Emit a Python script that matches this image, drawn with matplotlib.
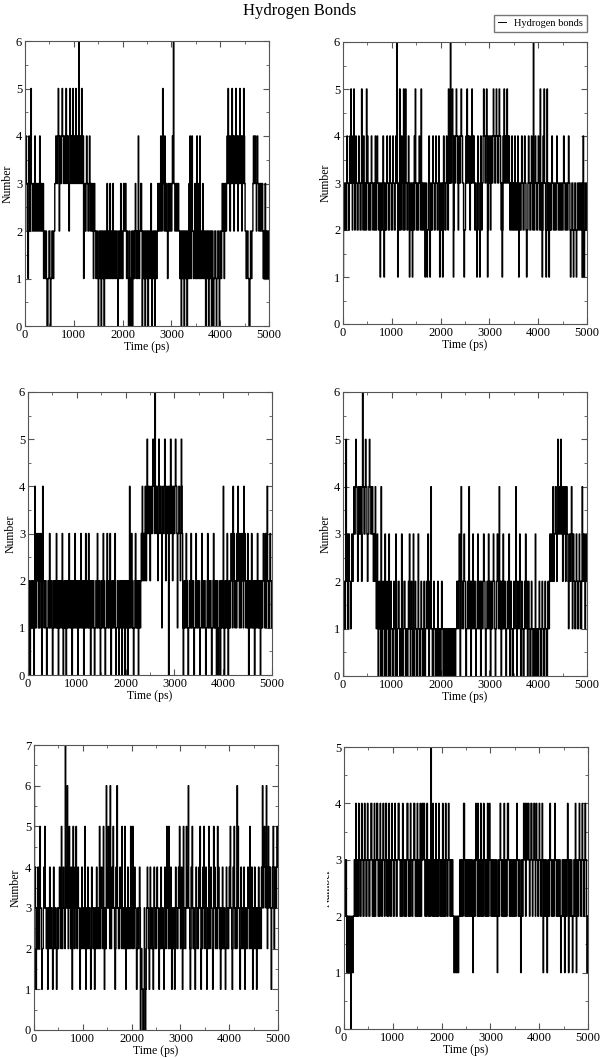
import numpy as np
import matplotlib
matplotlib.use("Agg")
import matplotlib.pyplot as plt
from matplotlib.transforms import Bbox, TransformedBbox
from matplotlib.ticker import MultipleLocator

# Hydrogen-bond counts, one digit per 10 ps, grouped in 500 ps windows
panel1 = [
    "23433212432353322332" "43233223324323322312" "2112100112",
    "2101122112" "23344334542343345443" "34435434432354344354",
    "34435434436434435434" "12322343322343233223" "1232211221",
    "01211201211201211231" "12213112213112211221" "0121123121",
    "12322332122101210112" "01211232122142122332" "0121120121",
    "12012112310121120121" "12322332432353324323" "3212322332",
    "23436332233223322112" "01211201211201213141" "1242211231",
    "21411231412112312112" "01211201211201210112" "2101122101",
    "21123223123223435334" "23435434234354342343" "5434234354",
    "32211221100121122343" "34432343322332233212" "2132122112",
]
panel2 = [
    "12233223433223435332" "43532343322343322353" "3243233253",
    "43233223433223324323" "43322312322343123223" "4332234332",
    "23433223436312325323" "43325323533223431232" "2312324353",
    "23322343325323322312" "32122343123223433223" "4332234312",
    "32231243322343325343" "63345412433454432343" "3454433212",
    "23435434432343543443" "23321243321243233454" "4334541243",
    "34234334544334544334" "54432312435434435434" "4323324323",
    "32432332431232234332" "23433212234332234332" "6323433223",
    "43325323124353321253" "23123223433223322343" "3223322332",
    "23433223322343321223" "32122332122332233223" "1243122332",
]
panel3 = [
    "12210121122101411232" "21311232014221122101" "1221311221",
    "01211221311201211221" "31012112012112312112" "0121123121",
    "12012112312112012131" "12213112012112210112" "2131122101",
    "21123121011231211231" "01211221310112210121" "1201211201",
    "21120121411231210112" "31211201211232432332" "4323533443",
    "23433454436434432354" "34431343345423433403" "4354342343",
    "34544313344323543101" "21123121011221311221" "0112312112",
    "21011231211221011231" "21122101123121120121" "0112012112",
    "41012112310121123221" "42321221324221321232" "2142321221",
    "31012112312112012112" "31211201211232213112" "4221123221",
]
panel4 = [
    "01211252231232211232" "23433454432343344324" "6443345443",
    "23345443344323324212" "31012110410121103101" "2110310121",
    "10012110310112210110" "31011221011001213101" "2110310121",
    "10013110012110012101" "12213101214110012110" "0110210110",
    "01211001100110011001" "10011001100112211232" "0142211232",
    "21011221421201213212" "21011231211201211232" "2101122132",
    "12012112322101123221" "42120121311221011221" "3201211001",
    "21124201211231012110" "01213212012110012110" "0110310110",
    "01211001211001211001" "21123223324323344323" "5434435434",
    "23433423433212322343" "12322112322112322112" "4223321232",
]
panel5 = [
    "63431232432353321223" "43533223123243233212" "4323321232",
    "23433253234332734363" "23533243125332435323" "4332123243",
    "23325312324323321243" "32231232432332532343" "3253123263",
    "43533263234353321243" "63322343325323325312" "3243233253",
    "32532343321232234301" "21100131012343321243" "2332124332",
    "23433212324323321243" "23533253234312322312" "4332234353",
    "23431253322353436332" "12435323321243322343" "5312324353",
    "23431232532343321253" "43233253432312324323" "3212433223",
    "43533212435323326353" "32124323324312322343" "3253234312",
    "32432312324323324364" "34544364235434431334" "5423433454",
]
panel6 = [
    "32233212211221012112" "23324323324332234332" "2343322343",
    "32233443233243233443" "23324332234332344323" "3243322343",
    "32234332233443322332" "43322332344323324332" "2334432332",
    "43233243234334432332" "43322332533243233243" "2332433223",
    "32432332433223433223" "32322112211221122332" "2332344323",
    "32233223322332123223" "43324323324323324332" "2332432343",
    "32233223322332123223" "43322332432332344332" "2332233223",
    "32234332233212322343" "34234334432334432334" "4323433223",
    "43322343123223321232" "23433223322343322332" "2332122332",
    "23123223431232233212" "23324312322343322343" "3223433212",
]

series = [panel1, panel2, panel3, panel4, panel5, panel6]
y_max = [6, 6, 6, 6, 7, 5]
window_ps = 500
t_end = 5000

title = "Hydrogen Bonds"
legend_label = "Hydrogen bonds"
xlabel = "Time (ps)"
ylabel = "Number"

plt.rcParams['font.family'] = ['Liberation Serif', 'DejaVu Serif']

fig = plt.figure(figsize=(6.0, 10.58), dpi=100)
W, H = 600.0, 1058.0
# axes boxes in pixels: x0, x1, ytop, ybottom
boxes = [(25, 269, 41, 326), (343, 587, 42, 324),
         (28, 272, 392, 675), (343, 587, 392, 676),
         (34, 278, 745, 1030), (344, 588, 747, 1029)]

axes = []
for k, (x0, x1, yt, yb) in enumerate(boxes):
    ax = fig.add_axes([x0 / W, 1 - yb / H, (x1 - x0) / W, (yb - yt) / H])
    t_list, v_list = [], []
    for w, chunk in enumerate(series[k]):
        n = len(chunk)
        for i, ch in enumerate(chunk):
            t_list.append(w * window_ps + i * window_ps / n)
            v_list.append(int(ch))
    t_list.append(t_end)
    v_list.append(v_list[-1])
    line, = ax.step(t_list, v_list, where='post', color='black', lw=1.0,
                    label=legend_label, snap=False)
    ax.set_xlim(0, t_end)
    ax.set_ylim(0, y_max[k])
    ax.xaxis.set_major_locator(MultipleLocator(1000))
    ax.xaxis.set_minor_locator(MultipleLocator(500))
    ax.yaxis.set_major_locator(MultipleLocator(1))
    ax.yaxis.set_minor_locator(MultipleLocator(0.5))
    ax.tick_params(which='both', direction='in', top=True, right=True,
                   labelsize=9, pad=2, color='#555555')
    ax.tick_params(which='major', length=4)
    ax.tick_params(which='minor', length=2)
    for sp in ax.spines.values():
        sp.set_color('#555555')
        sp.set_linewidth(0.8)
    ax.set_xlabel(xlabel, fontsize=8.5, labelpad=0)
    ax.set_ylabel(ylabel, fontsize=8.5, labelpad=2)
    axes.append(ax)

# legend above the top-right panel
leg = axes[1].legend(loc='lower right', bbox_to_anchor=(1.0, 1.035), borderaxespad=0,
                     fontsize=7.5, frameon=True, fancybox=False, handlelength=0.7,
                     handletextpad=0.8, borderpad=0.4, edgecolor='#555555')
for h in leg.legend_handles:
    h.set_linewidth(0.7)

fig.text(0.5, 1 - 11 / H, title, ha='center', va='center', fontsize=12)

# the y label of the last panel is partly hidden in the original
lab = axes[5].yaxis.label
clip = TransformedBbox(Bbox([[327 / W, 0], [1, 1]]), fig.transFigure)
lab.set_clip_box(clip)
lab.set_clip_on(True)

fig.savefig("out.png", dpi=100)
